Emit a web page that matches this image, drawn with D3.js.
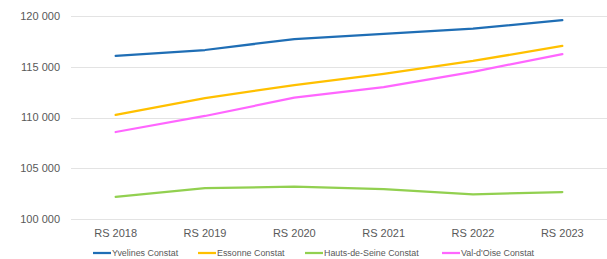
<!DOCTYPE html>
<html><head><meta charset="utf-8">
<script src="https://cdn.jsdelivr.net/npm/d3@7"></script>
<style>body{margin:0;background:#fff;}svg{display:block;font-family:"Liberation Sans",Arial,sans-serif;}</style>
</head><body><svg id="c" width="607" height="259"></svg>
<script>
const categories = ["RS 2018","RS 2019","RS 2020","RS 2021","RS 2022","RS 2023"];
const seriesNames = ["Yvelines Constat","Essonne Constat","Hauts-de-Seine Constat","Val-d'Oise Constat"];
const yvelines = [116060,116650,117730,118230,118750,119600];
const essonne = [110250,111900,113200,114300,115570,117050];
const hautsDeSeine = [102170,103050,103180,102950,102430,102660];
const valDOise = [108570,110150,111950,113000,114500,116250];
const yTicks = [100000,105000,110000,115000,120000];
const colors = ["#1f6eb5","#ffc000","#92d050","#ff66ff"];
const seriesValues = [yvelines, essonne, hautsDeSeine, valDOise];

const svg = d3.select("#c");
const x = d3.scaleBand().domain(categories).range([71,607]);
const y = d3.scaleLinear().domain([100000,120000]).range([219,16]);
const fmt = v => d3.format(",")(v).replace(/,/g," ");

svg.append("g").selectAll("line").data(yTicks).join("line")
  .attr("x1",71).attr("x2",607)
  .attr("y1",d=>Math.round(y(d))+0.5).attr("y2",d=>Math.round(y(d))+0.5)
  .attr("stroke","#e3e3e3").attr("stroke-width",1);

svg.append("g").selectAll("text").data(yTicks).join("text")
  .attr("x",60).attr("y",d=>y(d)).attr("dy","0.35em")
  .attr("text-anchor","end").attr("fill","#595959").attr("font-size",11)
  .text(fmt);

svg.append("g").selectAll("text").data(categories).join("text")
  .attr("x",d=>x(d)+x.bandwidth()/2).attr("y",237)
  .attr("text-anchor","middle").attr("fill","#595959").attr("font-size",11)
  .text(d=>d);

const line = d3.line().x((d,i)=>x(categories[i])+x.bandwidth()/2).y(d=>y(d));
svg.append("g").selectAll("path").data(seriesValues).join("path")
  .attr("d",line).attr("fill","none")
  .attr("stroke",(d,i)=>colors[i]).attr("stroke-width",2.25)
  .attr("stroke-linejoin","round").attr("stroke-linecap","round");

const legX = [93,198,305,442];
const lg = svg.append("g").selectAll("g").data(seriesNames).join("g")
  .attr("transform",(d,i)=>`translate(${legX[i]},253)`);
lg.append("line").attr("x1",0).attr("x2",18).attr("y1",0).attr("y2",0)
  .attr("stroke",(d,i)=>colors[i]).attr("stroke-width",2.25);
lg.append("text").attr("x",19).attr("y",0).attr("dy","0.35em")
  .attr("font-size",8.9).attr("fill","#595959").text(d=>d);
</script></body></html>
